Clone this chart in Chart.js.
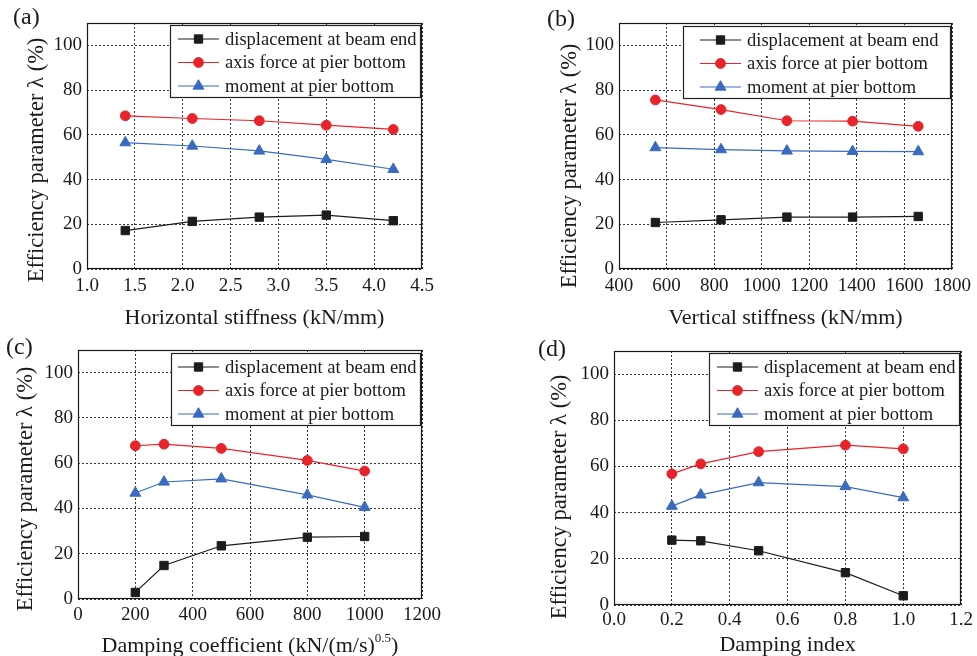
<!DOCTYPE html>
<html><head><meta charset="utf-8">
<script src="https://cdn.jsdelivr.net/npm/chart.js@4/dist/chart.umd.min.js"></script>
<style>
html,body{margin:0;padding:0;background:#fff;}
body{width:977px;height:656px;position:relative;overflow:hidden;}
.p{position:absolute;}
.p canvas{display:block;}
.lab{position:absolute;font:24px 'Liberation Serif';line-height:24px;color:#1a1a1a;white-space:nowrap;}
</style></head><body>
<div class="p" style="left:0;top:0;width:488px;height:330px"><canvas id="ca"></canvas></div>
<div class="p" style="left:490px;top:0;width:487px;height:330px"><canvas id="cb"></canvas></div>
<div class="p" style="left:0;top:330px;width:488px;height:326px"><canvas id="cc"></canvas></div>
<div class="p" style="left:490px;top:330px;width:487px;height:326px"><canvas id="cd"></canvas></div>
<div class="lab" style="left:13px;top:4px">(a)</div>
<div class="lab" style="left:547px;top:6px">(b)</div>
<div class="lab" style="left:6px;top:334px">(c)</div>
<div class="lab" style="left:538px;top:336px">(d)</div>
<script>
// ---- data ----
const seriesNames = ['displacement at beam end', 'axis force at pier bottom', 'moment at pier bottom'];
const yTitle = 'Efficiency parameter λ (%)';
const yTicks = [0, 20, 40, 60, 80, 100];

const xA = [1.4, 2.1, 2.8, 3.5, 4.2];
const dispA = [17.2, 21.3, 23.2, 24.1, 21.6];
const axisA = [68.5, 67.3, 66.3, 64.3, 62.4];
const momA = [56.5, 55.0, 52.8, 49.0, 44.6];
const xTicksA = [1.0, 1.5, 2.0, 2.5, 3.0, 3.5, 4.0, 4.5];

const xB = [553, 829, 1106, 1382, 1658];
const dispB = [20.8, 22.0, 23.2, 23.2, 23.5];
const axisB = [75.6, 71.3, 66.3, 66.1, 63.8];
const momB = [54.3, 53.4, 52.8, 52.6, 52.5];
const xTicksB = [400, 600, 800, 1000, 1200, 1400, 1600, 1800];

const xC = [200, 300, 500, 800, 1000];
const dispC = [2.9, 14.8, 23.5, 27.3, 27.6];
const axisC = [67.7, 68.4, 66.5, 61.2, 56.5];
const momC = [46.8, 51.7, 53.1, 46.0, 40.5];
const xTicksC = [0, 200, 400, 600, 800, 1000, 1200];

const xD = [0.2, 0.3, 0.5, 0.8, 1.0];
const dispD = [28.1, 27.8, 23.5, 14.0, 4.0];
const axisD = [56.8, 61.1, 66.4, 69.2, 67.6];
const momD = [42.8, 47.7, 53.0, 51.3, 46.5];
const xTicksD = [0.0, 0.2, 0.4, 0.6, 0.8, 1.0, 1.2];

// ---- styles ----
const TXT = '#1a1a1a';
const FONTF = "'Liberation Serif', 'Times New Roman', serif";
const styles = [
  {color: '#1c1c1c', fill: '#1c1c1c', style: 'rect', radius: 5.9},
  {color: '#e8242b', fill: '#e8242b', style: 'circle', radius: 4.9},
  {color: '#3a6bc0', fill: '#3a6bc0', style: 'triangle', radius: 6.3}
];

function drawMarker(ctx, st, x, y) {
  ctx.save();
  ctx.fillStyle = st.fill; ctx.strokeStyle = st.fill; ctx.lineWidth = 1;
  ctx.beginPath();
  const r = st.radius;
  if (st.style === 'rect') {
    const s = Math.SQRT1_2 * r; ctx.rect(x - s, y - s, 2 * s, 2 * s);
  } else if (st.style === 'circle') {
    ctx.arc(x, y, r, 0, Math.PI * 2);
  } else {
    for (let k = 0; k < 3; k++) {
      const a = -Math.PI / 2 + k * 2 * Math.PI / 3;
      const px = x + Math.cos(a) * r, py = y + Math.sin(a) * r;
      k ? ctx.lineTo(px, py) : ctx.moveTo(px, py);
    }
    ctx.closePath();
  }
  ctx.fill(); ctx.stroke();
  ctx.restore();
}

const framePlugin = {
  id: 'frame',
  beforeDatasetsDraw(chart) {
    const {ctx, chartArea: a} = chart;
    ctx.save();
    ctx.strokeStyle = '#1a1a1a'; ctx.lineWidth = 1.2;
    ctx.strokeRect(Math.round(a.left) + 0.5, Math.round(a.top) + 0.5, Math.round(a.right - a.left) - 1, Math.round(a.bottom - a.top) - 1);
    ctx.restore();
  }
};

const legendPlugin = {
  id: 'boxlegend',
  afterDatasetsDraw(chart, args, opts) {
    const {ctx, chartArea: a} = chart;
    ctx.save();
    ctx.font = '18.5px ' + FONTF;
    const ds = chart.data.datasets;
    const tw = Math.max(...ds.map(d => ctx.measureText(d.label).width));
    const padL = opts.padLeft, lineLen = 41, gap = 6, padR = opts.padRight;
    const w = Math.round(padL + lineLen + gap + tw + padR), h = 72;
    const x0 = Math.round(a.right - 2 - w), y0 = Math.round(a.top + opts.top);
    ctx.fillStyle = '#fff'; ctx.fillRect(x0, y0, w, h);
    ctx.strokeStyle = '#222'; ctx.lineWidth = 1.2;
    ctx.strokeRect(x0 + 0.5, y0 + 0.5, w, h);
    ds.forEach((d, i) => {
      const st = styles[i];
      const cy = y0 + 14 + i * 23.5;
      ctx.strokeStyle = st.color; ctx.lineWidth = 1.2;
      ctx.beginPath(); ctx.moveTo(x0 + padL, cy); ctx.lineTo(x0 + padL + lineLen, cy); ctx.stroke();
      drawMarker(ctx, st, x0 + padL + lineLen / 2, cy);
      ctx.fillStyle = TXT; ctx.textBaseline = 'middle'; ctx.textAlign = 'left';
      ctx.fillText(d.label, x0 + padL + lineLen + gap, cy + 1);
    });
    ctx.restore();
  }
};

const customTitlePlugin = {
  id: 'customtitle',
  afterDraw(chart, args, opts) {
    const {ctx, chartArea: a} = chart;
    ctx.save();
    ctx.fillStyle = TXT;
    // y-axis title
    ctx.font = '22.5px ' + FONTF;
    ctx.translate(opts.yx, opts.yy);
    ctx.rotate(-Math.PI / 2);
    ctx.textAlign = 'center'; ctx.textBaseline = 'middle';
    ctx.fillText(yTitle, 0, 0);
    ctx.restore();
    if (!opts.parts) return;
    ctx.save();
    ctx.fillStyle = TXT; ctx.textBaseline = 'alphabetic'; ctx.textAlign = 'left';
    const fMain = '22px ' + FONTF, fSup = '13px ' + FONTF;
    const widths = opts.parts.map(p => { ctx.font = p.sup ? fSup : fMain; return ctx.measureText(p.text).width; });
    const total = widths.reduce((s, v) => s + v, 0);
    let x = (a.left + a.right) / 2 - total / 2;
    opts.parts.forEach((p, i) => {
      ctx.font = p.sup ? fSup : fMain;
      ctx.fillText(p.text, x, opts.y + (p.sup ? -10 : 0));
      x += widths[i];
    });
    ctx.restore();
  }
};

function makeChart(id, xs, ys, xTicks, dec, xTitle, L) {
  const datasets = ys.map((arr, i) => ({
    label: seriesNames[i],
    data: xs.map((x, k) => ({x: x, y: arr[k]})),
    borderColor: styles[i].color,
    backgroundColor: styles[i].fill,
    pointBackgroundColor: styles[i].fill,
    pointBorderColor: styles[i].fill,
    pointStyle: styles[i].style,
    pointRadius: styles[i].radius,
    pointBorderWidth: 1,
    borderWidth: 1.2,
    tension: 0,
    clip: false
  }));
  const gridOpts = {color: '#333', lineWidth: 1, drawTicks: false};
  const borderOpts = {display: false, dash: [2, 2]};
  const custom = Object.assign({yx: L.yx, yy: L.yy}, L.custom || {});
  new Chart(document.getElementById(id), {
    type: 'line',
    data: {datasets},
    options: {
      responsive: true, maintainAspectRatio: false, animation: false, events: [],
      layout: {padding: {left: 0, top: L.top, right: L.right, bottom: 0}},
      plugins: {legend: {display: false}, tooltip: {enabled: false},
        boxlegend: {padLeft: L.legPad, padRight: L.legPadR, top: L.legTop},
        customtitle: custom},
      scales: {
        x: {
          type: 'linear', min: xTicks[0], max: xTicks[xTicks.length - 1],
          afterBuildTicks: s => { s.ticks = xTicks.map(v => ({value: v})); },
          afterFit: s => { s.height = L.xH; },
          ticks: {callback: v => Number(v).toFixed(dec), font: {family: FONTF, size: 19}, color: TXT,
                  padding: L.xTickPad, maxRotation: 0, autoSkip: false},
          grid: gridOpts, border: borderOpts,
          title: {display: !!xTitle, text: xTitle || '', font: {family: FONTF, size: 22}, color: TXT,
                  padding: {top: 0, bottom: L.xTitlePad}}
        },
        y: {
          type: 'linear', min: 0, max: 110,
          afterBuildTicks: s => { s.ticks = yTicks.map(v => ({value: v})); },
          afterFit: s => { s.width = L.yW; },
          ticks: {font: {family: FONTF, size: 19}, color: TXT, padding: 5},
          grid: gridOpts, border: borderOpts,
          title: {display: false}
        }
      }
    },
    plugins: [framePlugin, legendPlugin, customTitlePlugin]
  });
}

makeChart('ca', xA, [dispA, axisA, momA], xTicksA, 1, 'Horizontal stiffness (kN/mm)',
  {top: 23, right: 66, yW: 87, xH: 61, yx: 37, yy: 160, xTickPad: 6, xTitlePad: -1, legPad: 8, legPadR: 3, legTop: 2});
makeChart('cb', xB, [dispB, axisB, momB], xTicksB, 0, 'Vertical stiffness (kN/mm)',
  {top: 23, right: 23, yW: 129, xH: 61, yx: 80, yy: 166, xTickPad: 6, xTitlePad: -1, legPad: 17, legPadR: 11, legTop: 3});
makeChart('cc', xC, [dispC, axisC, momC], xTicksC, 0, null,
  {top: 20, right: 66, yW: 78, xH: 57, yx: 26, yy: 159, xTickPad: 5, xTitlePad: 0, legPad: 7, legPadR: 3, legTop: 3,
   custom: {y: 322, parts: [{text: 'Damping coefficient (kN/(m/s)'}, {text: '0.5', sup: true}, {text: ')'}]}});
makeChart('cd', xD, [dispD, axisD, momD], xTicksD, 1, 'Damping index',
  {top: 21, right: 14, yW: 124, xH: 51, yx: 70, yy: 167, xTickPad: 4, xTitlePad: -2, legPad: 8, legPadR: 3, legTop: 2});
</script>
</body></html>
